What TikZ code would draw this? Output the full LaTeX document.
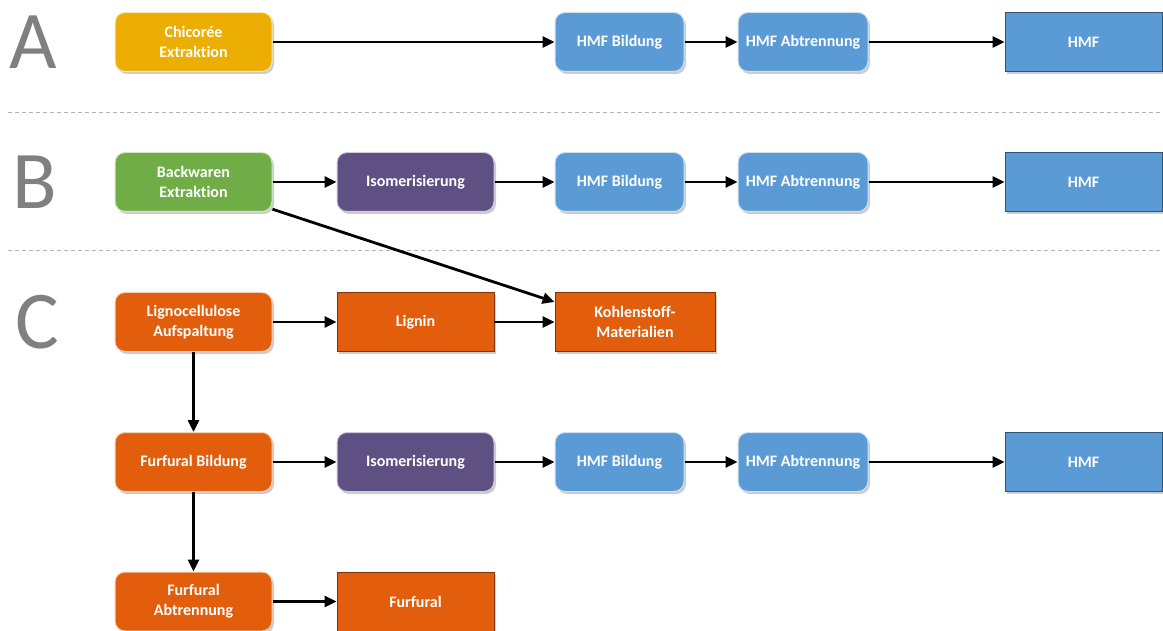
\documentclass[tikz,border=0pt]{standalone}
\usepackage{fontspec}
\setmainfont[Ligatures=NoCommon]{Carlito}
\usetikzlibrary{arrows.meta,shadows,positioning}
\definecolor{chicgold}{HTML}{EDAE04}
\definecolor{breadgreen}{HTML}{70AD47}
\definecolor{isopurple}{HTML}{5F5084}
\definecolor{hmfblue}{HTML}{5B9BD5}
\definecolor{lignorange}{HTML}{E35E0C}
\definecolor{rowgray}{HTML}{808080}

\begin{document}
\begin{tikzpicture}[x=1pt,y=-1pt,
    box/.style={minimum width=157pt, minimum height=59pt, inner sep=2pt,
      text=white, align=center, font=\fontsize{16}{20}\selectfont\bfseries,
      drop shadow={shadow xshift=2pt,shadow yshift=-2.5pt,opacity=0.4}},
    procbox/.style={box, rounded corners=10pt, fill=#1, draw=white!70!#1, line width=1pt},
    prodbox/.style={box, fill=#1, draw=black!45!#1, line width=0.8pt},
    flow/.style={-{Triangle[length=12pt,width=11pt]}, line width=2.8pt},
    rowletter/.style={text=rowgray, font=\fontsize{82}{82}\selectfont},
    separator/.style={rowgray!60, line width=0.8pt, dash pattern=on 4pt off 3pt}]
    \useasboundingbox (0,0) rectangle (1163,631);

    % row letters and separators
    \node[rowletter] (letA) at (33,42) {A};
    \node[rowletter] (letB) at (35,182) {B};
    \node[rowletter] (letC) at (37,322) {C};
    \coordinate (sepAl) at (8,112);
    \coordinate (sepAr) at (1163,112);
    \coordinate (sepBl) at (8,250);
    \coordinate (sepBr) at (1163,250);
    \draw[separator] (sepAl) -- (sepAr);
    \draw[separator] (sepBl) -- (sepBr);

    % A: Chicoree
    \node[procbox=chicgold] (chicA) at (193.5,42) {Chicorée\\Extraktion};
    \node[procbox=hmfblue, minimum width=129pt] (hmfbA) at (619.5,42) {HMF Bildung};
    \node[procbox=hmfblue, minimum width=130pt] (hmfaA) at (803,42) {HMF Abtrennung};
    \node[prodbox=hmfblue] (hmfA) at (1083.5,42) {HMF};
    \draw[flow] (chicA) -- (hmfbA);
    \draw[flow] (hmfbA) -- (hmfaA);
    \draw[flow] (hmfaA) -- (hmfA);

    % B: Backwaren
    \node[procbox=breadgreen] (backB) at (193.5,182) {Backwaren\\Extraktion};
    \node[procbox=isopurple] (isoB) at (415.5,182) {Isomerisierung};
    \node[procbox=hmfblue, minimum width=129pt] (hmfbB) at (619.5,182) {HMF Bildung};
    \node[procbox=hmfblue, minimum width=130pt] (hmfaB) at (803,182) {HMF Abtrennung};
    \node[prodbox=hmfblue] (hmfB) at (1083.5,182) {HMF};
    \draw[flow] (backB) -- (isoB);
    \draw[flow] (isoB) -- (hmfbB);
    \draw[flow] (hmfbB) -- (hmfaB);
    \draw[flow] (hmfaB) -- (hmfB);

    % C: Lignocellulose
    \node[procbox=lignorange] (lignoC) at (193.5,322) {Lignocellulose\\Aufspaltung};
    \node[prodbox=lignorange] (ligninC) at (415.5,322) {Lignin};
    \node[prodbox=lignorange, minimum width=160pt] (kohlC) at (635,322) {Kohlenstoff-\\Materialien};
    \draw[flow] (lignoC) -- (ligninC);
    \draw[flow] (ligninC) -- (kohlC);
    \draw[flow] (backB.-19) -- (kohlC.166);

    \node[procbox=lignorange] (furbC) at (193.5,462) {Furfural Bildung};
    \node[procbox=isopurple] (isoC) at (415.5,462) {Isomerisierung};
    \node[procbox=hmfblue, minimum width=129pt] (hmfbC) at (619.5,462) {HMF Bildung};
    \node[procbox=hmfblue, minimum width=130pt] (hmfaC) at (803,462) {HMF Abtrennung};
    \node[prodbox=hmfblue] (hmfC) at (1083.5,462) {HMF};
    \draw[flow] (lignoC) -- (furbC);
    \draw[flow] (furbC) -- (isoC);
    \draw[flow] (isoC) -- (hmfbC);
    \draw[flow] (hmfbC) -- (hmfaC);
    \draw[flow] (hmfaC) -- (hmfC);

    \node[procbox=lignorange] (furaC) at (193.5,601.5) {Furfural\\Abtrennung};
    \node[prodbox=lignorange] (furfC) at (415.5,601.5) {Furfural};
    \draw[flow] (furbC) -- (furaC);
    \draw[flow] (furaC) -- (furfC);
\end{tikzpicture}
\end{document}
